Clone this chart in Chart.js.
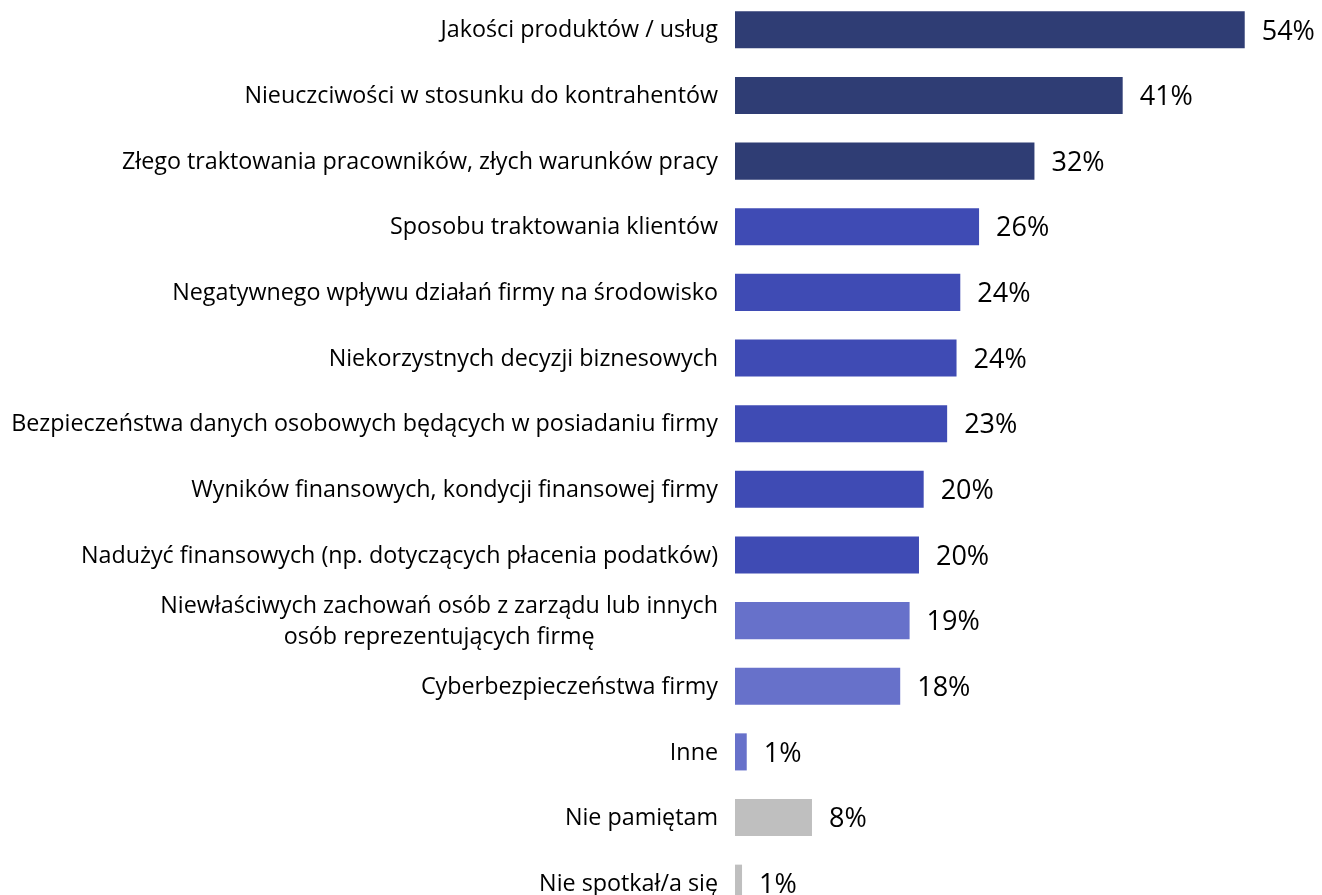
<!DOCTYPE html>
<html lang="pl">
<head>
    <meta charset="UTF-8">
    <title>Chart</title>
    <script src="https://cdn.jsdelivr.net/npm/chart.js@4.4.1/dist/chart.umd.min.js"></script>
    <style>
        html, body { margin: 0; padding: 0; background: #fff; overflow: hidden; }
        .wrap { position: absolute; left: 0; top: -3px; width: 1322px; height: 919px; }
    </style>
</head>
<body>
    <div class="wrap"><canvas id="chart"></canvas></div>
    <script>
        const categories = [
            'Jakości produktów / usług',
            'Nieuczciwości w stosunku do kontrahentów',
            'Złego traktowania pracowników, złych warunków pracy',
            'Sposobu traktowania klientów',
            'Negatywnego wpływu działań firmy na środowisko',
            'Niekorzystnych decyzji biznesowych',
            'Bezpieczeństwa danych osobowych będących w posiadaniu firmy',
            'Wyników finansowych, kondycji finansowej firmy',
            'Nadużyć finansowych (np. dotyczących płacenia podatków)',
            ['Niewłaściwych zachowań osób z zarządu lub innych', 'osób reprezentujących firmę'],
            'Cyberbezpieczeństwa firmy',
            'Inne',
            'Nie pamiętam',
            'Nie spotkał/a się'
        ];
        // shown rounded
        const values = [54.3, 41.3, 31.9, 26.0, 24.0, 23.6, 22.6, 20.1, 19.6, 18.6, 17.6, 1.25, 8.2, 0.75];
        const valueLabels = ['54%', '41%', '32%', '26%', '24%', '24%', '23%', '20%', '20%', '19%', '18%', '1%', '8%', '1%'];

        const navy = '#2f3d74';
        const blue = '#3f4bb4';
        const lightBlue = '#6771ca';
        const grey = '#bfbfbf';
        const barColors = [navy, navy, navy, blue, blue, blue, blue, blue, blue, lightBlue, lightBlue, lightBlue, grey, grey];

        const labelFont = '23.3px "Open Sans"';
        const valueFont = '27px "Open Sans"';

        const labelsPlugin = {
            id: 'labelsPlugin',
            afterDatasetsDraw(chart) {
                const ctx = chart.ctx;
                const yScale = chart.scales.y;
                const meta = chart.getDatasetMeta(0);
                ctx.save();
                ctx.fillStyle = '#000';
                ctx.textBaseline = 'middle';

                ctx.font = labelFont;
                ctx.textAlign = 'center';
                categories.forEach((label, i) => {
                    const lines = Array.isArray(label) ? label : [label];
                    const maxW = Math.max(...lines.map(l => ctx.measureText(l).width));
                    const cx = chart.chartArea.left - 17 - maxW / 2;
                    const y = yScale.getPixelForValue(i) + 1;
                    const lh = 31;
                    lines.forEach((line, j) => {
                        ctx.fillText(line, cx, y + (j - (lines.length - 1) / 2) * lh);
                    });
                });

                ctx.font = valueFont;
                ctx.textAlign = 'left';
                meta.data.forEach((bar, i) => {
                    ctx.fillText(valueLabels[i], bar.x + 17, bar.y + 2);
                });
                ctx.restore();
            }
        };

        new Chart(document.getElementById('chart'), {
            type: 'bar',
            data: {
                labels: categories,
                datasets: [{
                    data: values,
                    backgroundColor: barColors,
                    borderWidth: 0,
                    categoryPercentage: 1,
                    barPercentage: 0.565
                }]
            },
            options: {
                indexAxis: 'y',
                responsive: true,
                maintainAspectRatio: false,
                animation: false,
                layout: { padding: { left: 735, right: 5, top: 0, bottom: 0 } },
                plugins: {
                    legend: { display: false },
                    tooltip: { enabled: false }
                },
                scales: {
                    x: { display: false, min: 0, max: 62 },
                    y: { display: false }
                }
            },
            plugins: [labelsPlugin]
        });
    </script>
</body>
</html>
